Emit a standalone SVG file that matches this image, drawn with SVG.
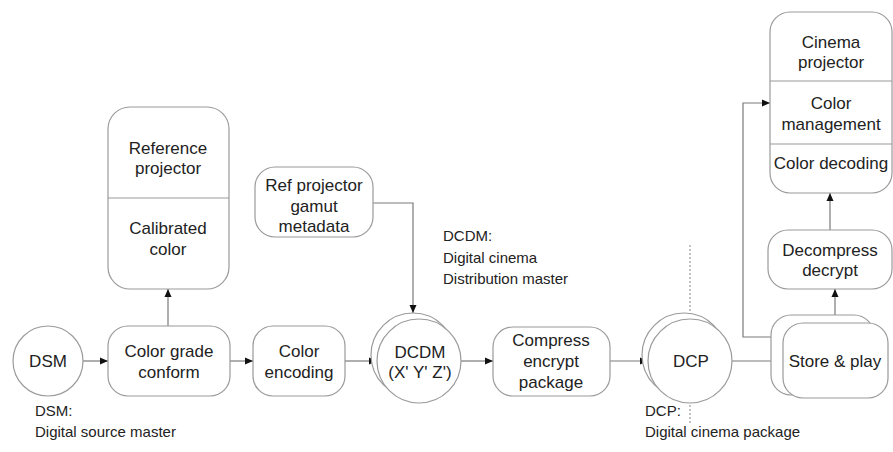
<svg xmlns="http://www.w3.org/2000/svg" width="893" height="452" viewBox="0 0 893 452">
  <style>
    .box { fill: #ffffff; stroke: #9a9a9a; stroke-width: 1.2; }
    .div { stroke: #9a9a9a; stroke-width: 1.2; }
    .t { font-family: "Liberation Sans", Arial, sans-serif; font-size: 17px; fill: #222222; text-anchor: middle; }
    .lbl { font-family: "Liberation Sans", Arial, sans-serif; font-size: 15px; fill: #222222; }
    .conn { fill: none; stroke: #7a7a7a; stroke-width: 1.2; }
    .sep { stroke: #9a9a9a; stroke-width: 1.2; stroke-dasharray: 2 2; }
  </style>
  <defs>
    <marker id="arrow" markerUnits="userSpaceOnUse" markerWidth="9" markerHeight="8" refX="8" refY="4" orient="auto">
      <path d="M0,0.5 L8,4 L0,7.5 z" fill="#111111"/>
    </marker>
  </defs>
  <rect width="893" height="452" fill="#ffffff"/>

  <!-- distribution boundary -->
  <g id="boundary">
    <line class="sep" x1="690" y1="245" x2="690" y2="425"/>
  </g>

  <!-- connectors -->
  <g id="connectors">
    <path class="conn" d="M83,361 H108" marker-end="url(#arrow)"/>
    <path class="conn" d="M168,326 V289" marker-end="url(#arrow)"/>
    <path class="conn" d="M230,361 H253" marker-end="url(#arrow)"/>
    <path class="conn" d="M345,361 H377" marker-end="url(#arrow)"/>
    <path class="conn" d="M373,203 H413 V313" marker-end="url(#arrow)"/>
    <path class="conn" d="M461,361 H493" marker-end="url(#arrow)"/>
    <path class="conn" d="M610,361 H648" marker-end="url(#arrow)"/>
    <path class="conn" d="M732,361 H783" marker-end="url(#arrow)"/>
    <path class="conn" d="M835,315 V289" marker-end="url(#arrow)"/>
    <path class="conn" d="M830,230 V193" marker-end="url(#arrow)"/>
    <path class="conn" d="M771,337 H743 V103 H770" marker-end="url(#arrow)"/>
  </g>

  <g id="dsm">
    <circle class="box" cx="48" cy="361" r="35"/>
    <text class="t" x="48" y="367">DSM</text>
  </g>

  <g id="color-grade">
    <rect class="box" x="108" y="326" width="122" height="70" rx="20"/>
    <text class="t" x="169" y="357">Color grade</text>
    <text class="t" x="169" y="378">conform</text>
  </g>

  <g id="reference-projector">
    <rect class="box" x="108" y="107" width="121" height="182" rx="22"/>
    <line class="div" x1="108" y1="198" x2="229" y2="198"/>
    <text class="t" x="168" y="154">Reference</text>
    <text class="t" x="168" y="174">projector</text>
    <text class="t" x="168" y="234">Calibrated</text>
    <text class="t" x="168" y="255">color</text>
  </g>

  <g id="ref-gamut">
    <rect class="box" x="255" y="167" width="118" height="70" rx="20"/>
    <text class="t" x="314" y="191">Ref projector</text>
    <text class="t" x="314" y="212">gamut</text>
    <text class="t" x="314" y="232">metadata</text>
  </g>

  <g id="color-encoding">
    <rect class="box" x="253" y="326" width="92" height="70" rx="20"/>
    <text class="t" x="299" y="357">Color</text>
    <text class="t" x="299" y="378">encoding</text>
  </g>

  <g id="dcdm">
    <circle class="box" cx="413" cy="355" r="42"/>
    <circle class="box" cx="419" cy="361" r="42"/>
    <text class="t" x="420" y="358">DCDM</text>
    <text class="t" x="420" y="378">(X' Y' Z')</text>
  </g>

  <g id="compress">
    <rect class="box" x="493" y="327" width="117" height="69" rx="20"/>
    <text class="t" x="551" y="346">Compress</text>
    <text class="t" x="551" y="367">encrypt</text>
    <text class="t" x="551" y="388">package</text>
  </g>

  <g id="dcp">
    <circle class="box" cx="684" cy="355" r="42"/>
    <circle class="box" cx="690" cy="361" r="42"/>
    <text class="t" x="691" y="367">DCP</text>
  </g>

  <g id="store-play">
    <rect class="box" x="771" y="315" width="103" height="80" rx="20"/>
    <rect class="box" x="783" y="323" width="105" height="75" rx="20"/>
    <text class="t" x="835" y="367">Store &amp; play</text>
  </g>

  <g id="decompress">
    <rect class="box" x="768" y="230" width="124" height="59" rx="20"/>
    <text class="t" x="830" y="256">Decompress</text>
    <text class="t" x="830" y="276">decrypt</text>
  </g>

  <g id="cinema-projector">
    <rect class="box" x="770" y="12" width="122" height="181" rx="20"/>
    <line class="div" x1="770" y1="81" x2="892" y2="81"/>
    <line class="div" x1="770" y1="144" x2="892" y2="144"/>
    <text class="t" x="831" y="48">Cinema</text>
    <text class="t" x="831" y="68">projector</text>
    <text class="t" x="831" y="109">Color</text>
    <text class="t" x="831" y="130">management</text>
    <text class="t" x="831" y="169">Color decoding</text>
  </g>

  <g id="labels">
    <text class="lbl" x="35" y="416">DSM:</text>
    <text class="lbl" x="35" y="437">Digital source master</text>
    <text class="lbl" x="443" y="241">DCDM:</text>
    <text class="lbl" x="443" y="263">Digital cinema</text>
    <text class="lbl" x="443" y="284">Distribution master</text>
    <text class="lbl" x="645" y="416">DCP:</text>
    <text class="lbl" x="645" y="437">Digital cinema package</text>
  </g>
</svg>
